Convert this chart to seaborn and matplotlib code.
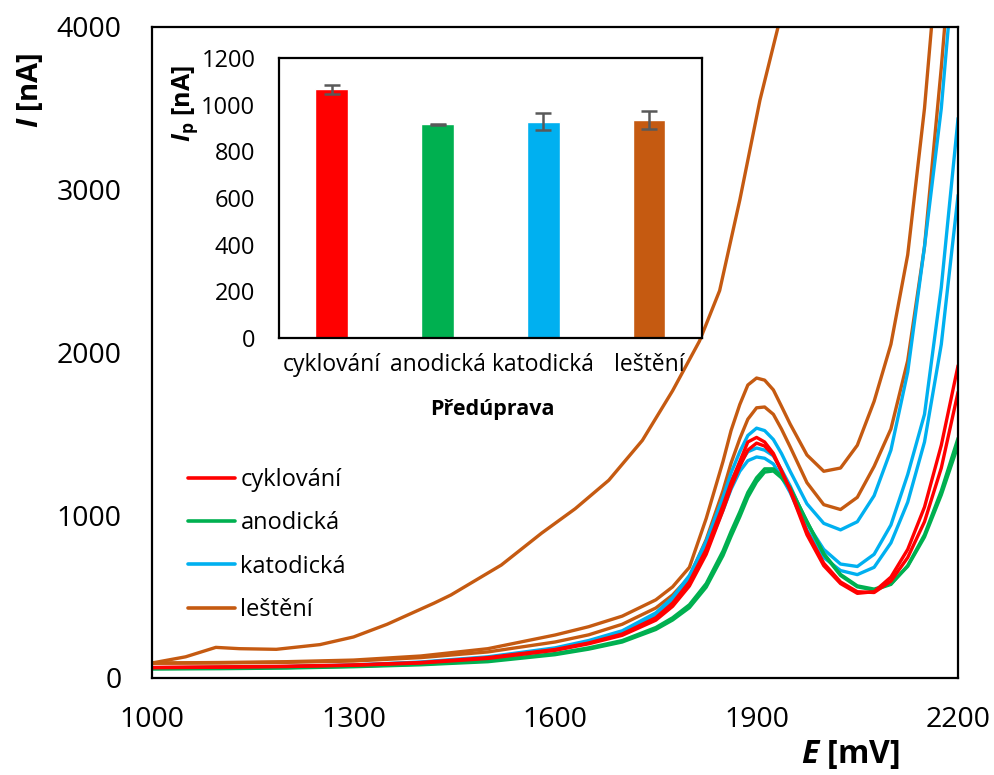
import numpy as np
import pandas as pd
import matplotlib
matplotlib.use("Agg")
import matplotlib.pyplot as plt
from matplotlib.lines import Line2D
import seaborn as sns

sns.set_style("white")
plt.rcParams['font.family'] = ['Open Sans', 'DejaVu Sans']
plt.rcParams['mathtext.fontset'] = 'custom'
plt.rcParams['mathtext.it'] = 'Open Sans:italic:bold'
plt.rcParams['mathtext.rm'] = 'Open Sans:bold'
plt.rcParams['mathtext.bf'] = 'Open Sans:bold'
for k in ['text.color', 'axes.labelcolor', 'xtick.color', 'ytick.color']:
    plt.rcParams[k] = 'black'

# ---------------- data ----------------
E = [1000, 1100, 1200, 1300, 1400, 1500, 1600, 1650, 1700, 1750, 1775, 1800, 1825,
     1850, 1862, 1875, 1887, 1900, 1912, 1925, 1937, 1950,
     1975, 2000, 2025, 2050, 2075, 2100, 2125, 2150, 2175, 2200]

cyklovani_1 = [65, 68, 72, 80, 95, 125, 175, 215, 270, 370, 460, 590, 790,
               1060, 1200, 1330, 1450, 1478, 1450, 1380, 1275, 1150,
               880, 690, 580, 520, 530, 620, 790, 1050, 1430, 1920]
cyklovani_2 = [63, 66, 70, 78, 92, 120, 170, 210, 262, 355, 440, 565, 760,
               1030, 1170, 1300, 1400, 1443, 1425, 1370, 1270, 1160,
               900, 705, 590, 530, 525, 595, 740, 960, 1290, 1757]
anodicka_1 = [58, 60, 64, 72, 85, 105, 150, 185, 230, 310, 370, 450, 580,
              780, 900, 1020, 1140, 1230, 1285, 1285, 1240, 1170,
              960, 760, 630, 560, 540, 575, 690, 880, 1150, 1474]
anodicka_2 = [55, 57, 61, 69, 81, 100, 143, 177, 221, 298, 356, 432, 558,
              752, 870, 990, 1110, 1205, 1265, 1272, 1230, 1165,
              962, 765, 636, 566, 546, 578, 686, 866, 1125, 1430]
katodicka_1 = [62, 65, 70, 80, 98, 130, 185, 230, 290, 400, 495, 630, 840,
               1110, 1260, 1390, 1490, 1535, 1520, 1465, 1380, 1270,
               1070, 950, 910, 960, 1120, 1400, 1880, 2650, 3500, 4700]
katodicka_2 = [61, 64, 69, 78, 95, 126, 178, 222, 280, 385, 475, 605, 810,
               1070, 1205, 1320, 1390, 1413, 1400, 1365, 1280, 1180,
               950, 790, 700, 685, 760, 940, 1250, 1620, 2400, 3440]
katodicka_3 = [60, 63, 67, 76, 92, 122, 172, 215, 272, 372, 458, 580, 780,
               1030, 1160, 1270, 1335, 1358, 1350, 1315, 1235, 1140,
               910, 740, 660, 635, 680, 830, 1080, 1450, 2050, 2967]
lesteni_1 = [92, 95, 100, 110, 135, 180, 264, 315, 380, 480, 560, 680, 980,
             1330, 1520, 1680, 1800, 1843, 1830, 1770, 1670, 1560,
             1370, 1270, 1290, 1430, 1700, 2050, 2600, 3500, 4700, 6000]
lesteni_2 = [90, 92, 96, 104, 125, 160, 221, 265, 330, 430, 510, 620, 850,
             1150, 1320, 1470, 1590, 1660, 1665, 1620, 1530, 1420,
             1200, 1065, 1035, 1110, 1300, 1530, 1950, 2650, 3750, 5000]

E3 = [1000, 1050, 1095, 1130, 1185, 1250, 1300, 1350, 1420, 1445, 1520, 1580, 1630,
      1680, 1730, 1775, 1815, 1845, 1875, 1905, 1932, 1945]
lesteni_3 = [92, 130, 188, 180, 176, 205, 252, 330, 460, 510, 694, 890, 1040,
             1215, 1460, 1765, 2070, 2380, 2936, 3550, 4000, 4250]

categories = ["cyklování", "anodická", "katodická", "leštění"]
Ip_mean = [1065, 916, 927, 934]
Ip_err = [20, 3, 36, 40]

colors = {"cyklování": "#FF0000", "anodická": "#00B050",
          "katodická": "#00B0F0", "leštění": "#C55A11"}

curves = [
    ("leštění", E3, lesteni_3),
    ("leštění", E, lesteni_1),
    ("leštění", E, lesteni_2),
    ("katodická", E, katodicka_1),
    ("katodická", E, katodicka_2),
    ("katodická", E, katodicka_3),
    ("anodická", E, anodicka_1),
    ("anodická", E, anodicka_2),
    ("cyklování", E, cyklovani_1),
    ("cyklování", E, cyklovani_2),
]

# ---------------- figure ----------------
fig = plt.figure(figsize=(9.95, 7.75), dpi=100)
ax = fig.add_axes([0.1528, 0.1252, 0.8101, 0.84])

for grp, xs, ys in curves:
    df = pd.DataFrame({"E": xs, "I": ys})
    sns.lineplot(data=df, x="E", y="I", ax=ax, color=colors[grp], lw=2.4,
                 sort=False, estimator=None)

ax.set_xlim(1000, 2200)
ax.set_ylim(0, 4000)
ax.set_xticks([1000, 1300, 1600, 1900, 2200])
ax.set_yticks([0, 1000, 2000, 3000, 4000])
ax.set_xlabel("")
ax.set_ylabel("")
ax.tick_params(axis='both', direction='in', length=9, width=1.5, labelsize=20.5,
               color='black', labelcolor='black')
ax.tick_params(axis='y', pad=22)
ax.tick_params(axis='x', pad=20)
for s in ax.spines.values():
    s.set_visible(True)
    s.set_color('black')
    s.set_linewidth(1.6)

handles = [Line2D([0], [0], color=colors[c], lw=2.6) for c in categories]
ax.legend(handles, categories, loc='upper left', bbox_to_anchor=(0.033, 0.337),
          frameon=False, fontsize=17, handlelength=2.0, handletextpad=0.22,
          labelspacing=0.82, borderaxespad=0)

fig.text(0.030, 0.884, r"$I$ [nA]", rotation=90, fontsize=21, fontweight='bold',
         ha='center', va='center')
fig.text(0.855, 0.027, r"$E$ [mV]", fontsize=23, fontweight='bold',
         ha='center', va='center')

# ---------------- inset ----------------
ax2 = fig.add_axes([0.2804, 0.5639, 0.4251, 0.3613])
ax2.set_facecolor('white')
bar_df = pd.DataFrame({"cat": categories, "Ip": Ip_mean})
sns.barplot(data=bar_df, x="cat", y="Ip", hue="cat", palette=colors, ax=ax2,
            width=0.31, errorbar=None, legend=False, saturation=1)
ax2.errorbar(x=np.arange(len(categories)), y=Ip_mean, yerr=Ip_err, fmt='none',
             ecolor='#595959', elinewidth=1.8, capsize=6, capthick=1.8)
ax2.set_ylim(0, 1200)
ax2.set_yticks(np.arange(0, 1201, 200))
ax2.set_xlim(-0.5, 3.5)
ax2.set_xlabel("")
ax2.set_ylabel("")
ax2.tick_params(axis='both', length=0, labelsize=17)
ax2.tick_params(axis='y', pad=17)
ax2.tick_params(axis='x', pad=11, labelsize=16.5)
for s in ax2.spines.values():
    s.set_visible(True)
    s.set_color('black')
    s.set_linewidth(1.6)

fig.text(0.186, 0.866, r"$I_{\mathrm{p}}$ [nA]", rotation=90, fontsize=18,
         fontweight='bold', ha='center', va='center')
fig.text(0.4945, 0.471, "Předúprava", fontsize=15.5, fontweight='bold',
         ha='center', va='center')

fig.savefig("out.png", dpi=100)
